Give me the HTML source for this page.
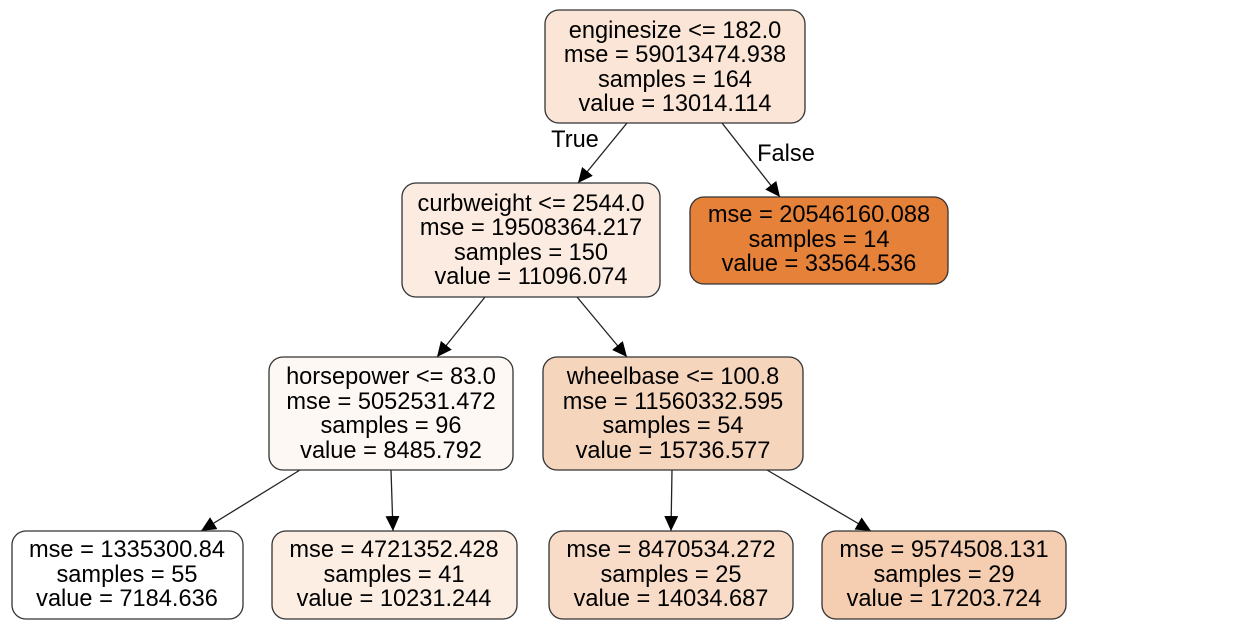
<!DOCTYPE html>
<html><head><meta charset="utf-8"><style>
html,body{margin:0;padding:0;background:#fff;}
svg{display:block;}
text{font-family:"Liberation Sans",Arial,sans-serif;font-size:23.6px;fill:#000;text-anchor:middle;}
rect{stroke:#333;stroke-width:1.3;}
line{stroke:#222;stroke-width:1.3;}
</style></head><body>
<svg width="1244" height="639" viewBox="0 0 1244 639" xmlns="http://www.w3.org/2000/svg">
<defs><marker id="a" markerWidth="16" markerHeight="14" refX="15" refY="7" orient="auto" markerUnits="userSpaceOnUse"><path d="M0,0 L15,7 L0,14 Z" fill="#000"/></marker></defs>
<line x1="627" y1="123" x2="578" y2="183" marker-end="url(#a)"/>
<line x1="722" y1="123" x2="780" y2="197" marker-end="url(#a)"/>
<line x1="485" y1="297" x2="437" y2="357" marker-end="url(#a)"/>
<line x1="577" y1="297" x2="627" y2="357" marker-end="url(#a)"/>
<line x1="300" y1="470" x2="201" y2="531" marker-end="url(#a)"/>
<line x1="391" y1="470" x2="393" y2="531" marker-end="url(#a)"/>
<line x1="672" y1="470" x2="671" y2="531" marker-end="url(#a)"/>
<line x1="767" y1="470" x2="871" y2="531" marker-end="url(#a)"/>
<text x="575" y="147">True</text>
<text x="786" y="161">False</text>
<rect x="545" y="10" width="260" height="113" rx="14" fill="#fae5d6"/>
<text x="675" y="38">enginesize &lt;= 182.0</text>
<text x="675" y="62">mse = 59013474.938</text>
<text x="675" y="87">samples = 164</text>
<text x="675" y="111">value = 13014.114</text>
<rect x="402" y="183" width="258" height="114" rx="14" fill="#fbebe0"/>
<text x="531" y="211">curbweight &lt;= 2544.0</text>
<text x="531" y="235">mse = 19508364.217</text>
<text x="531" y="260">samples = 150</text>
<text x="531" y="284">value = 11096.074</text>
<rect x="690" y="197" width="258" height="87" rx="14" fill="#e58139"/>
<text x="819" y="222">mse = 20546160.088</text>
<text x="819" y="247">samples = 14</text>
<text x="819" y="271">value = 33564.536</text>
<rect x="269" y="357" width="244" height="113" rx="14" fill="#fef8f4"/>
<text x="391" y="384">horsepower &lt;= 83.0</text>
<text x="391" y="409">mse = 5052531.472</text>
<text x="391" y="433">samples = 96</text>
<text x="391" y="458">value = 8485.792</text>
<rect x="543" y="357" width="260" height="113" rx="14" fill="#f6d5bd"/>
<text x="673" y="384">wheelbase &lt;= 100.8</text>
<text x="673" y="409">mse = 11560332.595</text>
<text x="673" y="433">samples = 54</text>
<text x="673" y="458">value = 15736.577</text>
<rect x="12" y="531" width="231" height="88" rx="14" fill="#ffffff"/>
<text x="127" y="557">mse = 1335300.84</text>
<text x="127" y="582">samples = 55</text>
<text x="127" y="606">value = 7184.636</text>
<rect x="272" y="531" width="245" height="88" rx="14" fill="#fdeee4"/>
<text x="394" y="557">mse = 4721352.428</text>
<text x="394" y="582">samples = 41</text>
<text x="394" y="606">value = 10231.244</text>
<rect x="549" y="531" width="244" height="88" rx="14" fill="#f8dcc8"/>
<text x="671" y="557">mse = 8470534.272</text>
<text x="671" y="582">samples = 25</text>
<text x="671" y="606">value = 14034.687</text>
<rect x="822" y="531" width="244" height="88" rx="14" fill="#f5cdb0"/>
<text x="944" y="557">mse = 9574508.131</text>
<text x="944" y="582">samples = 29</text>
<text x="944" y="606">value = 17203.724</text>
</svg>
</body></html>
